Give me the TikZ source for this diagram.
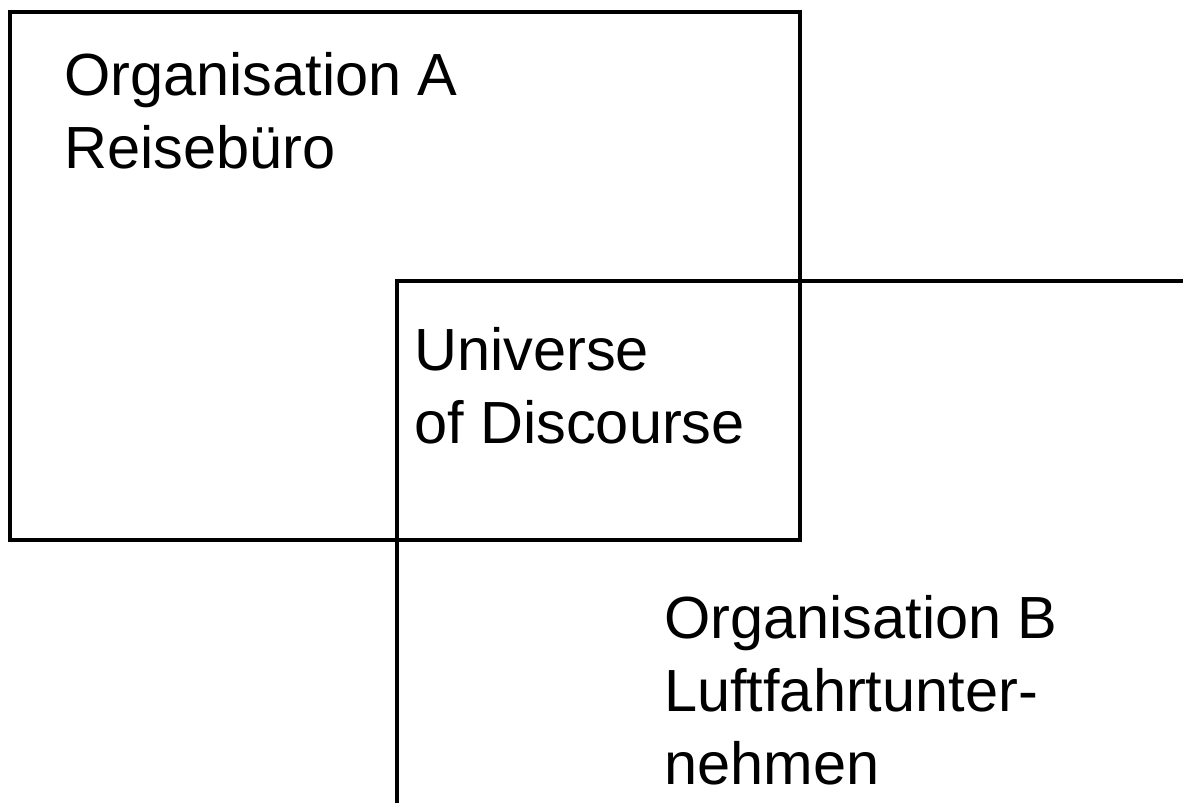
\documentclass[tikz,border=0pt]{standalone}
\usepackage{fontspec}
\setmainfont{Liberation Sans}
\usetikzlibrary{positioning}

\begin{document}
\begin{tikzpicture}[x=1pt,y=-1pt]
        \tikzset{frame/.style={line width=4pt}}
        \tikzset{label/.style={anchor=base west,align=left,inner sep=0pt,font=\fontsize{59.5}{73}\selectfont}}
        \useasboundingbox (0,0) rectangle (1183,803);
        % Organisation A
        \coordinate (a1) at (10,12);
        \coordinate (a2) at (800,540);
        \draw[frame] (a1) rectangle (a2);
        % Organisation B (runs off the page)
        \coordinate (b0) at (397,281);
        \coordinate (b1) at (1183,281);
        \coordinate (b2) at (397,803);
        \draw[frame] (b1) -- (b0) -- (b2);
        % labels, anchored at the baseline of the last line
        \node[label] (orgA) at (64,168) {Organisation A\\Reisebüro};
        \node[label] (uod) at (414,443) {Universe\\of Discourse};
        \node[label] (orgB) at (664,784) {Organisation B\\Luftfahrtunter-\\nehmen};
    \end{tikzpicture}
\end{document}
